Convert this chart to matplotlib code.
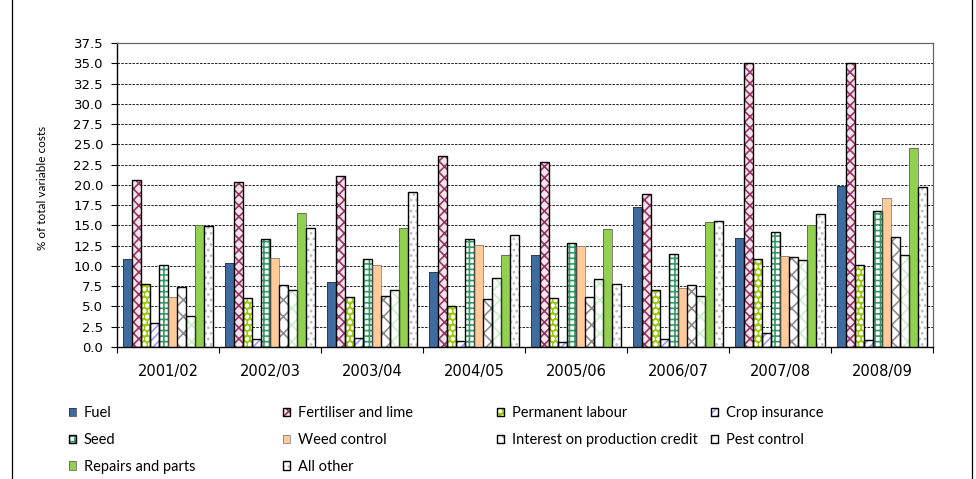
import matplotlib
matplotlib.use("Agg")
import matplotlib.pyplot as plt
import numpy as np
from matplotlib.lines import Line2D
from matplotlib.legend_handler import HandlerTuple
from matplotlib.ticker import FixedLocator, FormatStrFormatter

plt.rcParams["hatch.linewidth"] = 1.2

years = ["2001/02", "2002/03", "2003/04", "2004/05", "2005/06", "2006/07", "2007/08", "2008/09"]

fuel = [10.8, 10.4, 8.0, 9.3, 11.4, 17.3, 13.5, 19.8]
fertiliser = [20.6, 20.4, 21.1, 23.5, 22.8, 18.9, 35.0, 35.0]
permanent_labour = [7.8, 6.1, 6.2, 5.1, 6.1, 7.0, 10.8, 10.1]
crop_insurance = [3.0, 1.0, 1.1, 0.7, 0.6, 1.0, 1.7, 0.9]
seed = [10.1, 13.3, 10.9, 13.3, 12.8, 11.5, 14.2, 16.8]
weed_control = [6.2, 11.0, 10.1, 12.6, 12.5, 7.3, 11.2, 18.4]
interest = [7.4, 7.7, 6.3, 5.9, 6.2, 7.6, 11.1, 13.6]
pest_control = [3.8, 7.0, 7.0, 8.5, 8.4, 6.3, 10.7, 11.3]
repairs = [15.0, 16.5, 14.7, 11.4, 14.5, 15.4, 15.0, 24.6]
all_other = [14.9, 14.7, 19.1, 13.8, 7.8, 15.6, 16.4, 19.7]

# (label, values, face colour, hatch, hatch colour, outline colour, outline width)
series = [
    ("Fuel", fuel, "#3F6B9F", None, None, "#2a2a2a", 0.5),
    ("Fertiliser and lime", fertiliser, "#F4E4EC", "xxx", "#993366", "black", 1.0),
    ("Permanent labour", permanent_labour, "#99CC00", "ooo", "white", "black", 1.0),
    ("Crop insurance", crop_insurance, "white", "////", "#9999FF", "black", 1.0),
    ("Seed", seed, "white", "+++", "#339966", "black", 1.0),
    ("Weed control", weed_control, "#FFCC99", None, None, "#707070", 0.5),
    ("Interest on production credit", interest, "white", "xx", "#8C8C8C", "black", 1.0),
    ("Pest control", pest_control, "white", "xx", "#C8F0C8", "black", 1.0),
    ("Repairs and parts", repairs, "#92D050", None, None, "#505050", 0.5),
    ("All other", all_other, "white", "...", "#BBBBBB", "black", 1.0),
]

W, H = 976, 479
fig = plt.figure(figsize=(W / 100, H / 100), dpi=100)
ax = fig.add_axes([117 / W, 1 - 347 / H, (933 - 117) / W, (347 - 43) / H])

x = np.arange(len(years))
w = 0.0873
handles, labels = [], []
for k, (label, vals, face, hatch, hcol, ec, lw) in enumerate(series):
    pos = x - 5 * w + (k + 0.5) * w
    fill = ax.bar(pos, vals, w, color=face, edgecolor=hcol if hatch else face,
                  linewidth=0, hatch=hatch, zorder=2)
    outline = ax.bar(pos, vals, w, facecolor="none", edgecolor=ec,
                     linewidth=lw, zorder=3)
    handles.append((fill, outline))
    labels.append(label)

ax.set_xlim(-0.5, len(years) - 0.5)
ax.set_ylim(0, 37.5)

# y axis
ax.yaxis.set_major_locator(FixedLocator(np.arange(0, 37.6, 2.5)))
ax.yaxis.set_major_formatter(FormatStrFormatter("%.1f"))
ax.tick_params(axis="y", direction="out", length=4, width=0.8, pad=6,
               labelsize=9.5, colors="black")
for t in ax.get_yticklabels():
    t.set_fontfamily("DejaVu Sans")

# x axis: ticks at group boundaries, labels at group centres
ax.set_xticks(np.arange(-0.5, len(years), 1.0))
ax.set_xticklabels([])
ax.set_xticks(x, minor=True)
ax.set_xticklabels(years, minor=True, fontsize=10.5, fontfamily="DejaVu Sans")
ax.tick_params(axis="x", which="major", direction="out", length=4, width=0.8)
ax.tick_params(axis="x", which="minor", length=0, pad=12)

# dashed gridlines
for yv in np.arange(2.5, 37.4, 2.5):
    ax.axhline(yv, color="black", lw=0.6, ls=(0, (3, 1.5)), zorder=1)

for side in ("left", "bottom"):
    ax.spines[side].set_color("black")
    ax.spines[side].set_linewidth(1.0)
for side in ("top", "right"):
    ax.spines[side].set_color("#666666")
    ax.spines[side].set_linewidth(0.9)

fig.text(42 / W, 1 - 188 / H, "% of total variable costs", rotation=90,
         ha="center", va="center", fontsize=8.5, fontfamily="Lato")

# legend: four columns, entries filled row by row
col_x = [69, 283, 497, 711]
for j in range(4):
    idx = [i for i in (j, j + 4, j + 8) if i < len(series)]
    fig.legend([handles[i] for i in idx], [labels[i] for i in idx],
               loc="upper left", bbox_to_anchor=(col_x[j] / W, 1 - 406 / H),
               frameon=False, borderpad=0, borderaxespad=0,
               handlelength=0.5, handleheight=0.5, handletextpad=0.5,
               labelspacing=0.88, prop={"family": "Lato", "size": 10.5},
               handler_map={tuple: HandlerTuple(ndivide=1)})

# chart area border
for xb in (12, 972):
    fig.add_artist(Line2D([xb / W, xb / W], [0, 1], transform=fig.transFigure,
                          color="black", lw=0.9))

fig.savefig("out.png", dpi=100)
